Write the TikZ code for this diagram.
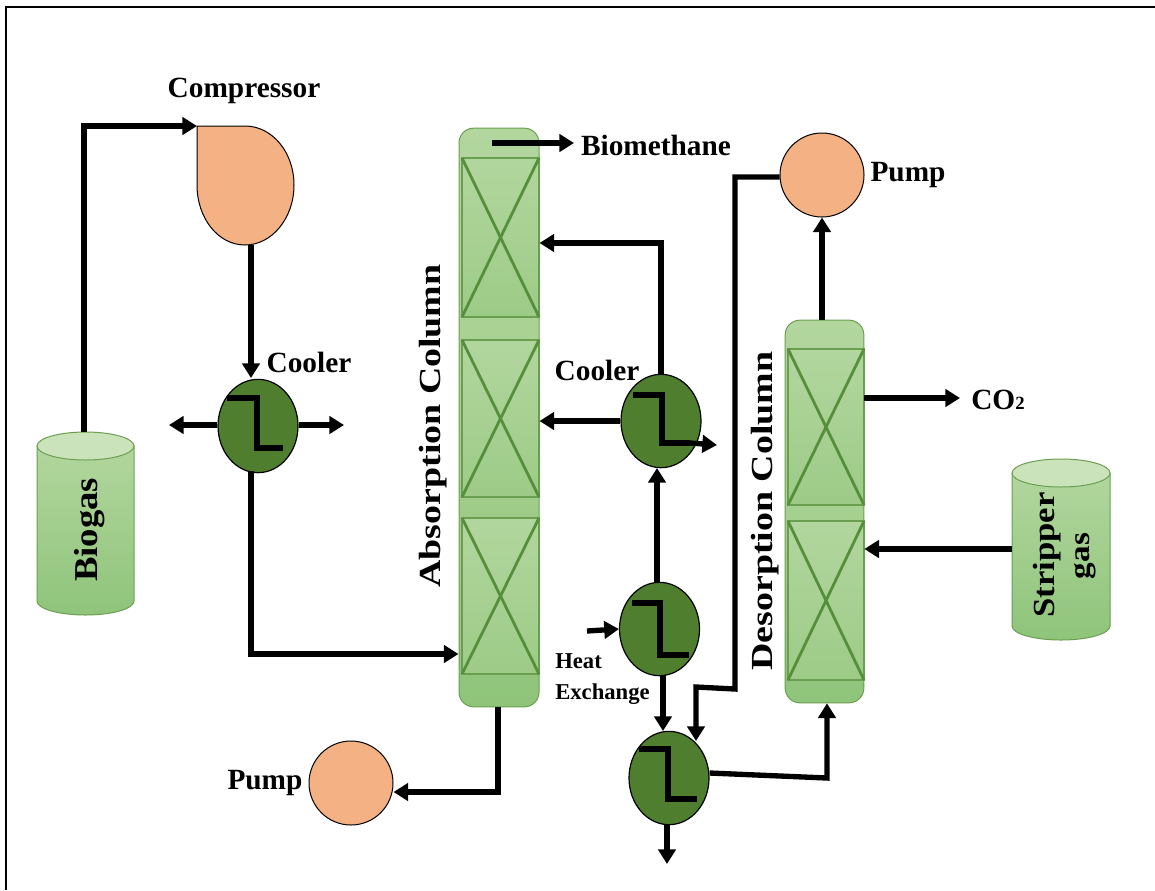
\documentclass[tikz,border=0pt]{standalone}
\usepackage{fontspec}
\setmainfont{Liberation Serif}
\usetikzlibrary{shapes.geometric,arrows.meta,calc}
\definecolor{coltop}{HTML}{B2D69E}
\definecolor{colmid}{HTML}{A6D08F}
\definecolor{colbot}{HTML}{8FC47B}
\definecolor{colline}{HTML}{6A9F52}
\definecolor{xline}{HTML}{568F3C}
\definecolor{hxfill}{HTML}{4F7F2E}
\definecolor{orangefill}{HTML}{F4B183}
\definecolor{cyltop}{HTML}{CBE3BB}
\tikzset{
  x=0.75pt,y=-0.75pt,
  pipe/.style={line width=4pt,draw=black,-{Triangle[length=11pt,width=13pt]},line join=miter},
  zline/.style={line width=4pt,draw=black,line join=miter},
  hx/.style={ellipse,draw=black,line width=0.9pt,fill=hxfill,inner sep=0pt,minimum width=60pt,minimum height=70pt},
  pumpc/.style={circle,draw=black,line width=0.75pt,fill=orangefill,inner sep=0pt,minimum size=63pt},
  column/.style={rectangle,rounded corners=11pt,draw=colline,line width=0.75pt,top color=coltop,bottom color=colbot,middle color=colmid,inner sep=0pt},
  lab/.style={font=\bfseries\fontsize{22}{24}\selectfont,text=black,inner sep=0pt},
  lab2/.style={font=\bfseries\fontsize{23}{24}\selectfont,text=black,inner sep=0pt},
  small/.style={font=\bfseries\fontsize{17}{23.5}\selectfont,text=black,inner sep=0pt,align=left},
  section/.style={draw=colline,line width=1pt,top color=coltop,bottom color=colmid!60!colbot},
  cross/.style={draw=xline,line width=2.1pt},
}
\newcommand{\packing}[4]{% x1 y1 x2 y2
  \path[section] (#1,#2) rectangle (#3,#4);
  \draw[cross] (#1,#2) -- (#3,#4);
  \draw[cross] (#3,#2) -- (#1,#4);
}
\newcommand{\drum}[5]{% x1 x2 ytop ybot ry
  \path[draw=colline,line width=0.75pt,top color=coltop,bottom color=colbot]
    (#1,#3) -- (#1,#4) arc[start angle=180,end angle=360,x radius={(#2-#1)*0.375pt},y radius={#5*0.75pt}] -- (#2,#3) -- cycle;
  \path[draw=colline,line width=0.75pt,fill=cyltop] ({(#1+#2)/2},#3) ellipse[x radius={(#2-#1)*0.375pt},y radius={#5*0.75pt}];
}
\begin{document}
\begin{tikzpicture}
\useasboundingbox (0,0) rectangle (1155,890);
\fill[white] (0,0) rectangle (1155,890);
\draw[black,line width=1.5pt] (5.5,890) -- (5.5,7) -- (1155,7);

% columns
\node[column,minimum width=60pt,minimum height=434pt] (abs) at (499,417.5) {};
\packing{462}{158}{539}{317}
\packing{462}{340}{539}{497}
\packing{462}{518}{539}{674}
\node[column,minimum width=59pt,minimum height=287pt] (des) at (824.5,511.5) {};
\packing{788}{349}{864}{505}
\packing{788}{521}{864}{680}

% drums
\drum{37}{134}{446}{601}{14}
\drum{1012}{1110}{473}{626}{14}
\coordinate (biogastop) at (84,432);
\coordinate (stripperside) at (1012,549);

% compressor
\path[draw=black,line width=0.75pt,fill=orangefill]
  (197,126) -- (245,126)
  .. controls (272,126) and (294,152) .. (294,185)
  .. controls (294,218) and (272,245) .. (245,245)
  .. controls (218,245) and (197,218) .. (197,185) -- cycle;
\coordinate (compin) at (197,126);
\coordinate (compout) at (251,245);

% heat exchangers
\node[hx] (cool1) at (258,426) {};
\node[hx] (cool2) at (661,421) {};
\node[hx] (heat) at (659.5,629) {};
\node[hx] (hex2) at (669,778) {};
\draw[zline] (227,398) -- (257,398) -- (257,448) -- (283,448);
\draw[zline] (633,395) -- (662,395) -- (662,443) -- (690,443);
\draw[zline] (632,603) -- (660,603) -- (660,655) -- (689,655);
\draw[zline] (639,749) -- (668,749) -- (668,799) -- (697,799);

% pumps
\node[pumpc] (pump1) at (822,175) {};
\node[pumpc] (pump2) at (351,783) {};

% free ends
\coordinate (c1l) at (169,425);
\coordinate (c1r) at (344,425);
\coordinate (c2r) at (717,445);
\coordinate (bioout) at (492,143);
\coordinate (bioend) at (574,143);
\coordinate (co2end) at (960,398);
\coordinate (heatin) at (587,631);
\coordinate (hexout) at (667,864);

% connectors
\draw[pipe] (biogastop) |- (compin);
\draw[pipe] (compout) -- (251,378);
\draw[pipe] (cool1.west |- c1l) -- (c1l);
\draw[pipe] (cool1.east |- c1r) -- (c1r);
\draw[pipe] (251,471) |- (abs.west |- 0,654);
\draw[pipe] (bioout) -- (bioend);
\draw[pipe] (cool2.north) |- (abs.east |- 0,243);
\draw[pipe] (cool2.west) -- (abs.east |- cool2.west);
\draw[pipe] (690,443) -- (c2r);
\draw[pipe] (657,583) -- (657,468);
\draw[pipe] (heatin) -- (heat.west);
\draw[pipe] (663,675) -- (663,731);
\draw[pipe] (pump1.west |- 0,177) -- (735,177) -- (735,689) -- (696,687) -- (696,741);
\draw[pipe] (hex2.east |- 0,773) -- (827,778) -- (des.south -| 827,0);
\draw[pipe] (667,825) -- (hexout);
\draw[pipe] (des.north -| pump1.south) -- (pump1.south);
\draw[pipe] (des.east |- co2end) -- (co2end);
\draw[pipe] (stripperside) -- (des.east |- stripperside);
\draw[pipe] (abs.south -| 498,0) |- (pump2.east |- 0,792);

% labels
\node[lab] (t1) at (244,91) {Compressor};
\node[lab] (t2) at (309,362) {Cooler};
\node[lab] (t3) at (597,370) {Cooler};
\node[lab] (t4) at (656,145) {Biomethane};
\node[lab] (t5) at (908,175) {Pump};
\node[lab] (t6) at (265,783) {Pump};
\node[small,anchor=north west] (t7) at (555,653) {Heat\\Exchange};
\node[lab,anchor=west] (t8) at (971,400) {CO{\fontsize{14}{14}\selectfont 2}};
\node[lab2,rotate=90] (t9) at (433,426) {\scalebox{1.235}[1]{Absorption Column}};
\node[lab2,rotate=90] (t10) at (765,511) {\scalebox{1.235}[1]{Desorption Column}};
\node[lab2,rotate=90,font=\bfseries\fontsize{25}{26}\selectfont] (t11) at (90,530) {\scalebox{1.1}[1]{Biogas}};
\node[lab2,rotate=90] (t12) at (1047,555) {\scalebox{1.13}[1]{Stripper}};
\node[lab2,rotate=90,font=\bfseries\fontsize{22}{24}\selectfont] (t13) at (1085,556) {\scalebox{1.13}[1]{gas}};
\end{tikzpicture}
\end{document}
